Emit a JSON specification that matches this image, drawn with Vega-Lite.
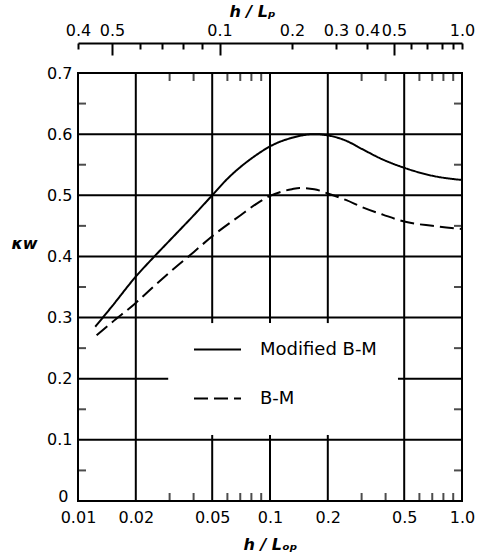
{
  "$schema": "https://vega.github.io/schema/vega-lite/v6.json",
  "width": 384,
  "height": 428,
  "autosize": {"type": "none"},
  "padding": {"left": 78, "top": 73, "right": 17, "bottom": 59},
  "background": "white",
  "config": {
    "font": "DejaVu Sans",
    "view": {"stroke": "black", "strokeWidth": 2},
    "axis": {"labelColor": "black", "titleColor": "black", "labelFont": "DejaVu Sans", "titleFont": "DejaVu Sans"},
    "legend": {"labelColor": "black", "labelFont": "DejaVu Sans"}
  },
  "datasets": {
    "curves": [
      {"series": "Modified B-M", "x": 0.0123, "k": 0.285},
      {"series": "Modified B-M", "x": 0.015, "k": 0.318},
      {"series": "Modified B-M", "x": 0.02, "k": 0.367},
      {"series": "Modified B-M", "x": 0.025, "k": 0.4},
      {"series": "Modified B-M", "x": 0.03, "k": 0.426},
      {"series": "Modified B-M", "x": 0.04, "k": 0.467},
      {"series": "Modified B-M", "x": 0.05, "k": 0.5},
      {"series": "Modified B-M", "x": 0.06, "k": 0.527},
      {"series": "Modified B-M", "x": 0.07, "k": 0.546},
      {"series": "Modified B-M", "x": 0.085, "k": 0.566},
      {"series": "Modified B-M", "x": 0.1, "k": 0.58},
      {"series": "Modified B-M", "x": 0.13, "k": 0.594},
      {"series": "Modified B-M", "x": 0.17, "k": 0.6},
      {"series": "Modified B-M", "x": 0.2, "k": 0.598},
      {"series": "Modified B-M", "x": 0.25, "k": 0.589},
      {"series": "Modified B-M", "x": 0.3, "k": 0.576},
      {"series": "Modified B-M", "x": 0.39, "k": 0.558},
      {"series": "Modified B-M", "x": 0.5, "k": 0.545},
      {"series": "Modified B-M", "x": 0.7, "k": 0.532},
      {"series": "Modified B-M", "x": 1.0, "k": 0.525},
      {"series": "B-M", "x": 0.0125, "k": 0.271},
      {"series": "B-M", "x": 0.015, "k": 0.292},
      {"series": "B-M", "x": 0.02, "k": 0.324},
      {"series": "B-M", "x": 0.025, "k": 0.352},
      {"series": "B-M", "x": 0.03, "k": 0.374},
      {"series": "B-M", "x": 0.04, "k": 0.407},
      {"series": "B-M", "x": 0.05, "k": 0.433},
      {"series": "B-M", "x": 0.07, "k": 0.467},
      {"series": "B-M", "x": 0.085, "k": 0.486},
      {"series": "B-M", "x": 0.1, "k": 0.499},
      {"series": "B-M", "x": 0.115, "k": 0.506},
      {"series": "B-M", "x": 0.13, "k": 0.51},
      {"series": "B-M", "x": 0.143, "k": 0.512},
      {"series": "B-M", "x": 0.17, "k": 0.51},
      {"series": "B-M", "x": 0.2, "k": 0.503},
      {"series": "B-M", "x": 0.25, "k": 0.492},
      {"series": "B-M", "x": 0.3, "k": 0.481},
      {"series": "B-M", "x": 0.39, "k": 0.468},
      {"series": "B-M", "x": 0.5, "k": 0.457},
      {"series": "B-M", "x": 0.7, "k": 0.45},
      {"series": "B-M", "x": 1.0, "k": 0.445}
    ],
    "vgrid": [
      {"x": 0.02, "y0": 0, "y1": 0.7},
      {"x": 0.5, "y0": 0, "y1": 0.7},
      {"x": 0.05, "y0": 0, "y1": 0.108},
      {"x": 0.05, "y0": 0.291, "y1": 0.7},
      {"x": 0.1, "y0": 0, "y1": 0.108},
      {"x": 0.1, "y0": 0.291, "y1": 0.7},
      {"x": 0.2, "y0": 0, "y1": 0.108},
      {"x": 0.2, "y0": 0.291, "y1": 0.7}
    ],
    "hgrid": [
      {"y": 0.1, "x0": 0.01, "x1": 1},
      {"y": 0.3, "x0": 0.01, "x1": 1},
      {"y": 0.4, "x0": 0.01, "x1": 1},
      {"y": 0.5, "x0": 0.01, "x1": 1},
      {"y": 0.6, "x0": 0.01, "x1": 1},
      {"y": 0.2, "x0": 0.01, "x1": 0.0295},
      {"y": 0.2, "x0": 0.464, "x1": 1}
    ],
    "minorX": [
      {"v": 0.03}, {"v": 0.04}, {"v": 0.06}, {"v": 0.07}, {"v": 0.08}, {"v": 0.09},
      {"v": 0.3}, {"v": 0.4}, {"v": 0.6}, {"v": 0.7}, {"v": 0.8}, {"v": 0.9}
    ],
    "minorY": [
      {"v": 0.05}, {"v": 0.15}, {"v": 0.25}, {"v": 0.35}, {"v": 0.45}, {"v": 0.55}, {"v": 0.65}
    ]
  },
  "layer": [
    {
      "data": {"name": "vgrid"},
      "mark": {"type": "rule", "color": "black", "strokeWidth": 2},
      "encoding": {
        "x": {
          "field": "x", "type": "quantitative",
          "scale": {"type": "log", "domain": [0.01, 1], "nice": false},
          "axis": {
            "orient": "top",
            "offset": 30,
            "values": [0.01, 0.01503, 0.02103, 0.02738, 0.03523, 0.04424, 0.05458, 0.1302, 0.2207, 0.3201, 0.4424, 0.542, 0.6575, 0.7866, 0.8977, 1],
            "labelExpr": "datum.value == 0.01 ? '0.4' : datum.value == 0.01503 ? '0.5' : datum.value == 0.05458 ? '0.1' : datum.value == 0.1302 ? '0.2' : datum.value == 0.2207 ? '0.3' : datum.value == 0.3201 ? '0.4' : datum.value == 0.4424 ? '0.5' : datum.value == 1 ? '1.0' : ''",
            "domain": true, "domainColor": "black", "domainWidth": 2,
            "ticks": true, "tickColor": "black", "tickWidth": 2,
            "tickSize": {"condition": {"test": "indexof([0.01503, 0.05458, 0.4424], datum.value) >= 0", "value": -12}, "value": -6},
            "labelPadding": {"condition": {"test": "indexof([0.01503, 0.05458, 0.4424], datum.value) >= 0", "value": 17}, "value": 11},
            "grid": false,
            "labelFontSize": 16,
            "labelOverlap": false, "labelFlush": false, "labelBound": false,
            "title": "h / Lₚ",
            "titleFontSize": 16, "titleFontStyle": "italic", "titleFontWeight": "bold",
            "titlePadding": 3, "titleX": 174, "titleAlign": "center"
          }
        },
        "y": {"field": "y0", "type": "quantitative", "scale": {"domain": [0, 0.7], "nice": false}},
        "y2": {"field": "y1"}
      }
    },
    {
      "data": {"name": "hgrid"},
      "mark": {"type": "rule", "color": "black", "strokeWidth": 2},
      "encoding": {
        "x": {"field": "x0", "type": "quantitative", "scale": {"type": "log", "domain": [0.01, 1], "nice": false}, "axis": null},
        "x2": {"field": "x1"},
        "y": {
          "field": "y", "type": "quantitative",
          "scale": {"domain": [0, 0.7], "nice": false},
          "axis": {
            "orient": "left",
            "values": [0, 0.1, 0.2, 0.3, 0.4, 0.5, 0.6, 0.7],
            "labelExpr": "datum.value == 0 ? '0' : format(datum.value, '.1f')",
            "ticks": false, "domain": false, "grid": false,
            "labelFontSize": 16,
            "labelPadding": {"condition": {"test": "datum.value == 0", "value": 10}, "value": 6},
            "labelOffset": {"condition": {"test": "datum.value == 0", "value": -5}, "value": 0},
            "labelOverlap": false, "labelFlush": false, "labelBound": false,
            "title": "κw",
            "titleAngle": 0, "titleFontSize": 16, "titleFontStyle": "italic", "titleFontWeight": "bold",
            "titleX": -54, "titleY": 170, "titleAlign": "center", "titleBaseline": "middle"
          }
        }
      }
    },
    {
      "data": {"name": "minorX"},
      "mark": {"type": "tick", "orient": "vertical", "size": 8, "thickness": 2, "color": "black", "yOffset": 4},
      "encoding": {
        "x": {"field": "v", "type": "quantitative", "scale": {"type": "log", "domain": [0.01, 1], "nice": false}, "axis": null},
        "y": {"datum": 0.7, "type": "quantitative", "scale": {"domain": [0, 0.7], "nice": false}}
      }
    },
    {
      "data": {"name": "minorX"},
      "mark": {"type": "tick", "orient": "vertical", "size": 8, "thickness": 2, "color": "black", "yOffset": -4},
      "encoding": {
        "x": {"field": "v", "type": "quantitative", "scale": {"type": "log", "domain": [0.01, 1], "nice": false}, "axis": null},
        "y": {"datum": 0, "type": "quantitative", "scale": {"domain": [0, 0.7], "nice": false}}
      }
    },
    {
      "data": {"name": "minorY"},
      "mark": {"type": "tick", "orient": "horizontal", "size": 8, "thickness": 2, "color": "black", "xOffset": 4},
      "encoding": {
        "x": {"datum": 0.01, "type": "quantitative", "scale": {"type": "log", "domain": [0.01, 1], "nice": false}, "axis": null},
        "y": {"field": "v", "type": "quantitative", "scale": {"domain": [0, 0.7], "nice": false}}
      }
    },
    {
      "data": {"name": "minorY"},
      "mark": {"type": "tick", "orient": "horizontal", "size": 8, "thickness": 2, "color": "black", "xOffset": -4},
      "encoding": {
        "x": {"datum": 1, "type": "quantitative", "scale": {"type": "log", "domain": [0.01, 1], "nice": false}, "axis": null},
        "y": {"field": "v", "type": "quantitative", "scale": {"domain": [0, 0.7], "nice": false}}
      }
    },
    {
      "data": {"name": "curves"},
      "mark": {"type": "line", "color": "black", "strokeWidth": 2, "interpolate": "monotone"},
      "encoding": {
        "x": {
          "field": "x", "type": "quantitative",
          "scale": {"type": "log", "domain": [0.01, 1], "nice": false},
          "axis": {
            "orient": "bottom",
            "values": [0.01, 0.02, 0.05, 0.1, 0.2, 0.5, 1],
            "labelExpr": "datum.value == 1 ? '1.0' : format(datum.value, '.2~f')",
            "ticks": false, "domain": false, "grid": false,
            "labelFontSize": 16, "labelPadding": 8,
            "labelOverlap": false, "labelFlush": false, "labelBound": false,
            "title": "h / Lₒₚ",
            "titleFontSize": 16, "titleFontStyle": "italic", "titleFontWeight": "bold",
            "titlePadding": 11
          }
        },
        "y": {
          "field": "k", "type": "quantitative",
          "scale": {"domain": [0, 0.7], "nice": false}
        },
        "strokeDash": {
          "field": "series", "type": "nominal",
          "scale": {"domain": ["Modified B-M", "B-M"], "range": [[1, 0], [14, 6]]},
          "legend": {
            "orient": "none", "legendX": 115, "legendY": 252,
            "title": null,
            "symbolType": "stroke", "symbolSize": 2209, "symbolStrokeWidth": 2, "symbolStrokeColor": "black",
            "labelFontSize": 18, "labelOffset": 18, "rowPadding": 15, "padding": 0
          }
        }
      }
    }
  ]
}
